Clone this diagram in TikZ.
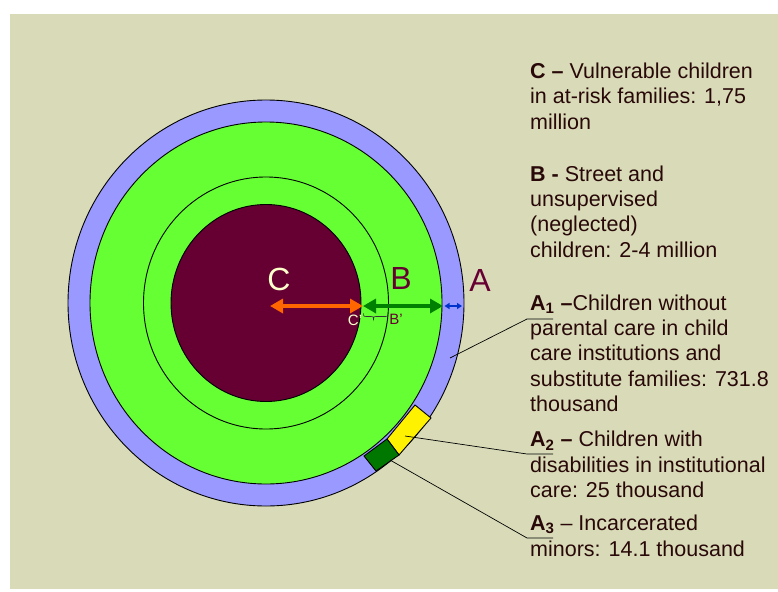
\documentclass[tikz,border=0pt]{standalone}
\usepackage{fontspec}
\setmainfont{Liberation Sans}
\usetikzlibrary{arrows.meta}
\definecolor{bg}{RGB}{217,219,184}
\definecolor{ringblue}{RGB}{153,153,255}
\definecolor{ringgreen}{RGB}{102,255,51}
\definecolor{maroonc}{RGB}{102,0,51}
\definecolor{creamc}{RGB}{255,255,204}
\definecolor{txtc}{RGB}{40,8,8}
\definecolor{arrorange}{RGB}{255,102,0}
\definecolor{arrgreen}{RGB}{0,128,0}
\definecolor{arrblue}{RGB}{0,51,204}
\definecolor{boxgreen}{RGB}{0,120,0}
\begin{document}
\begin{tikzpicture}[x=1pt,y=-1pt,
  ring/.style={draw=black,line width=0.9pt},
  desc/.style={anchor=base west,align=left,inner sep=0pt,text=txtc,
    font=\fontsize{21.5}{25.4}\selectfont},
  bigletter/.style={inner sep=0pt,font=\fontsize{32}{36}\selectfont},
  smallletter/.style={inner sep=0pt,font=\fontsize{15}{18}\selectfont},
  leader/.style={draw=black,line width=0.7pt},
  bigarrow/.style={line width=3.5pt,{Triangle[length=13pt,width=14pt]}-{Triangle[length=13pt,width=14pt]}},
  smallarrow/.style={line width=1.5pt,{Triangle[length=5pt,width=6pt]}-{Triangle[length=5pt,width=6pt]}}]
\useasboundingbox (0,0) rectangle (778,591);
\fill[bg] (10,14) rectangle (778,589);
% rings
\coordinate (ctr) at (266,303);
\filldraw[ring,fill=ringblue] (ctr) ellipse [x radius=198pt,y radius=203pt];
\filldraw[ring,fill=ringgreen] (ctr) ellipse [x radius=176pt,y radius=181pt];
\draw[ring] (ctr) ellipse [x radius=122.5pt,y radius=126pt];
\filldraw[ring,fill=maroonc] (ctr) ellipse [x radius=95pt,y radius=98.5pt];
% small sectors
\filldraw[ring,fill=yellow] (415,405) -- (431,418) -- (399,455) -- (387,439) -- cycle;
\filldraw[ring,fill=boxgreen] (387,439) -- (399,455) -- (376,471) -- (364,456) -- cycle;
% arrows
\coordinate (cl) at (270,306);
\coordinate (cr) at (363,306);
\coordinate (br) at (443,306);
\coordinate (ar) at (462,306);
\coordinate (al) at (444.5,306);
\draw[bigarrow,arrorange] (cl) -- (cr);
\draw[bigarrow,arrgreen] (cr) -- (br);
\draw[smallarrow,arrblue] (al) -- (ar);
% letters
\node[bigletter,text=creamc] (lC) at (279,279) {C};
\node[bigletter,text=maroonc] (lB) at (401,278) {B};
\node[bigletter,text=maroonc] (lA) at (480,280) {A};
\node[smallletter,text=creamc] (lCp) at (355,320) {C'};
\node[smallletter,text=maroonc] (lBp) at (396,319) {B'};
\coordinate (brl) at (363.5,313.5);
\coordinate (brm) at (373.5,319.5);
\coordinate (brr) at (388,313.5);
\draw[line width=0.6pt,black!80] (brl) .. controls (363.5,316.5) .. (366,316.5) -- (371,316.5)
  .. controls (373.3,316.5) .. (brm) .. controls (373.7,316.5) .. (376,316.5) -- (385.5,316.5)
  .. controls (388,316.5) .. (brr);
% descriptions (anchored at the baseline of the last line)
\node[desc] (tC) at (530,129.1) {\textbf{C –} Vulnerable children\\in at-risk families: 1,75\\million};
\node[desc] (tB) at (530,257.2) {\textbf{B -} Street and\\unsupervised\\(neglected)\\children: 2-4 million};
\node[desc] (tA1) at (530,411.6) {\textbf{A\textsubscript{1} –}Children without\\parental care in child\\care institutions and\\substitute families: 731.8\\thousand};
\node[desc] (tA2) at (530,497.7) {\textbf{A\textsubscript{2} –} Children with\\disabilities in institutional\\care: 25 thousand};
\node[desc] (tA3) at (530,556) {\textbf{A\textsubscript{3}} – Incarcerated\\minors: 14.1 thousand};
% leaders
\coordinate (p1) at (450,358);
\coordinate (k1) at (527,319);
\coordinate (e1) at (553,319);
\coordinate (p2) at (405,436);
\coordinate (k2) at (527,454);
\coordinate (e2) at (553,454);
\coordinate (p3) at (390,460);
\coordinate (k3) at (527,538);
\coordinate (e3) at (553,538);
\draw[leader] (p1) -- (k1) -- (e1);
\draw[leader] (p2) -- (k2) -- (e2);
\draw[leader] (p3) -- (k3) -- (e3);
\end{tikzpicture}
\end{document}
